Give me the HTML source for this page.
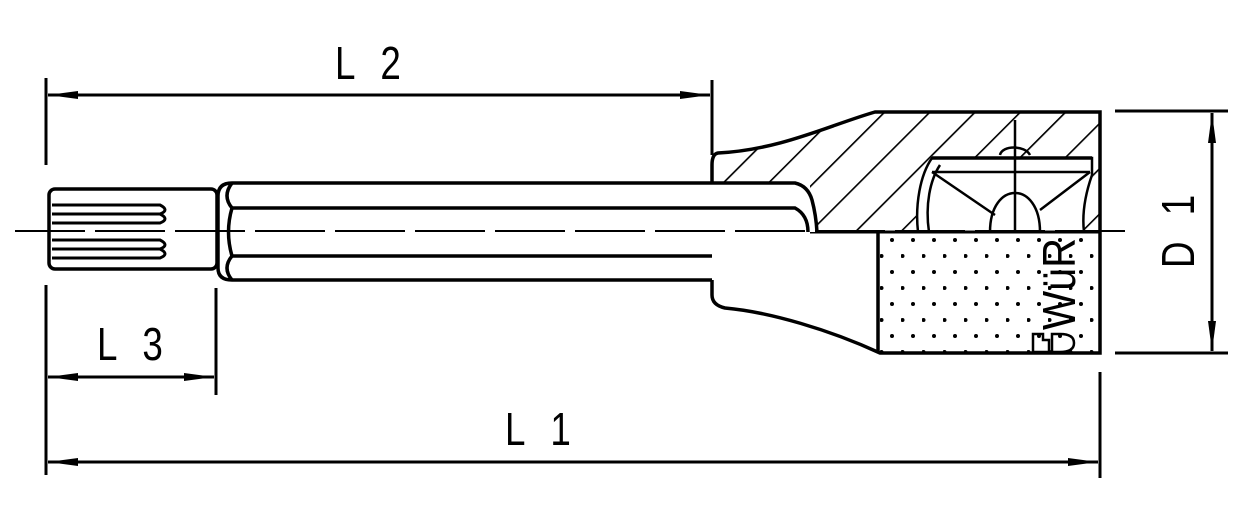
<!DOCTYPE html>
<html><head><style>html,body{margin:0;padding:0;background:#fff}svg{display:block}</style></head>
<body>
<svg width="1250" height="516" viewBox="0 0 1250 516" xmlns="http://www.w3.org/2000/svg">
<defs>
<pattern id="h" patternUnits="userSpaceOnUse" width="32" height="32" patternTransform="rotate(45)">
<line x1="0" y1="0" x2="0" y2="32" stroke="#000" stroke-width="3.3"/>
</pattern>
<pattern id="d" patternUnits="userSpaceOnUse" x="880" y="236" width="21" height="32">
<circle cx="12" cy="4" r="2" fill="#000"/><circle cx="1.5" cy="20" r="2" fill="#000"/>
</pattern>
<marker id="a" viewBox="0 0 30 10" refX="30" refY="5" markerWidth="30" markerHeight="10" markerUnits="userSpaceOnUse" orient="auto-start-reverse">
<path d="M0,1 L30,5 L0,9 Z" fill="#000"/>
</marker>
</defs>
<g font-family="'Liberation Sans',sans-serif" font-size="46" fill="#000" letter-spacing="10">
<text transform="translate(335,79) scale(0.8,1)">L 2</text>
<text transform="translate(97,360) scale(0.8,1)">L 3</text>
<text transform="translate(505,445) scale(0.8,1)">L 1</text>
<text transform="translate(1194,268) rotate(-90) scale(0.8,1)">D 1</text>
</g>
<g stroke="#000" stroke-width="3" fill="none">
<line x1="46" y1="78" x2="46" y2="165"/>
<line x1="712" y1="80" x2="712" y2="155"/>
<line x1="46" y1="285" x2="46" y2="475"/>
<line x1="216" y1="288" x2="216" y2="395"/>
<line x1="1100" y1="372" x2="1100" y2="478"/>
<line x1="1115" y1="111" x2="1228" y2="111"/>
<line x1="1115" y1="353" x2="1228" y2="353"/>
<line x1="48" y1="95" x2="710" y2="95" marker-start="url(#a)" marker-end="url(#a)"/>
<line x1="48" y1="377" x2="214" y2="377" marker-start="url(#a)" marker-end="url(#a)"/>
<line x1="48" y1="462" x2="1098" y2="462" marker-start="url(#a)" marker-end="url(#a)"/>
<line x1="1212" y1="113" x2="1212" y2="351" marker-start="url(#a)" marker-end="url(#a)"/>
</g>
<path d="M718,153 C780,150 830,125 875,113 L1100,113 L1100,232 L712,232 L712,160 Z" fill="url(#h)"/>
<rect x="878" y="232" width="222" height="121" fill="url(#d)"/>
<path d="M918,232 C915,205 920,175 932,158 L1092,158 L1092,175 C1085,195 1082,215 1084,232 Z" fill="#fff" stroke="#000" stroke-width="2.5"/>
<g stroke="#000" fill="none" stroke-width="2.5">
<path d="M929,232 C925,205 930,180 940,165"/>
<line x1="932" y1="158" x2="1092" y2="158" stroke-width="3.5"/>
<line x1="932" y1="172" x2="1090" y2="172"/>
<path d="M932,172 L995,215 M1090,172 L1040,210"/>
<path d="M990,232 C990,180 1040,180 1040,232"/>
<path d="M1000,155 C1002,145 1025,145 1030,155"/>
<line x1="1015" y1="120" x2="1015" y2="232"/>
</g>
<path d="M718,153 C780,150 830,125 875,112 L1100,112 L1100,353 L880,353 C830,330 770,312 725,308 Q712,305 712,295 L712,165 Q712,154 718,153 Z" fill="none" stroke="#000" stroke-width="3.5"/>
<line x1="878" y1="232" x2="878" y2="353" stroke="#000" stroke-width="3.5"/>
<line x1="712" y1="232" x2="1100" y2="232" stroke="#000" stroke-width="3"/>
<rect x="218" y="183" width="592" height="97" fill="#fff"/>
<path d="M795,183 Q812,190 817,232 L795,232 Z" fill="#fff"/>
<g stroke="#000" fill="none" stroke-width="3.5">
<path d="M712,183 L232,183 Q218,183 218,196 L218,268 Q218,280 232,280 L712,280"/>
<path d="M712,183 L795,183 Q808,186 812,200 Q816,215 817,232"/>
<path d="M232,208 L795,208 Q808,215 808,232"/>
<line x1="232" y1="256" x2="712" y2="256"/>
<path d="M232,208 Q222,196 232,183 M232,256 Q222,268 232,280"/>
<path d="M232,208 Q225,232 232,256"/>
</g>
<rect x="49" y="189" width="168" height="80" rx="6" fill="#fff" stroke="#000" stroke-width="3.5"/>
<g stroke="#000" stroke-width="3" fill="none">
<path d="M52,205 L160,205 Q170,210 160,214 L52,214"/>
<path d="M52,214 L160,214 Q170,219 160,223 L52,223"/>
<path d="M52,240 L160,240 Q170,245 160,249 L52,249"/>
<path d="M52,249 L160,249 Q170,254 160,258 L52,258"/>
</g>
<line x1="15" y1="231" x2="1125" y2="231" stroke="#000" stroke-width="2" stroke-dasharray="70,10"/>
<text transform="translate(1075,330) rotate(-90) scale(0.9,1)" font-family="'Liberation Sans',sans-serif" font-size="46" fill="#000">WüR</text>
<path d="M1033,334 h10 v6 h6 v12 h-16 Z M1052,334 h8 q14,0 14,9 q0,9 -14,9 h-8 Z" fill="none" stroke="#000" stroke-width="2.5"/>
</svg>
</body></html>
